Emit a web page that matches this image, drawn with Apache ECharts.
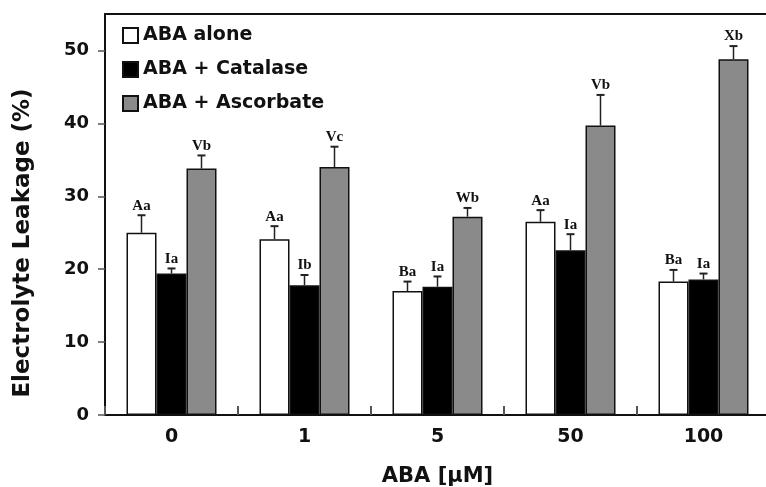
<!DOCTYPE html>
<html>
<head>
<meta charset="utf-8">
<script src="https://cdn.jsdelivr.net/npm/echarts@6/dist/echarts.min.js"></script>
<style>
  html, body { margin: 0; padding: 0; background: #fff; }
  #chart { width: 766px; height: 487px; }
</style>
</head>
<body>
<div id="chart"></div>
<script>
// ABA concentration groups
var categories = ['0', '1', '5', '50', '100'];

// ABA alone
var aloneVals = [25.0, 24.1, 17.0, 26.5, 18.3];
var aloneErr = [2.4, 1.8, 1.3, 1.6, 1.6];
var aloneTags = ['Aa', 'Aa', 'Ba', 'Aa', 'Ba'];

// ABA + Catalase
var catalaseVals = [19.4, 17.8, 17.6, 22.6, 18.6];
var catalaseErr = [0.7, 1.4, 1.4, 2.2, 0.8];
var catalaseTags = ['Ia', 'Ib', 'Ia', 'Ia', 'Ia'];

// ABA + Ascorbate
var ascorbateVals = [33.8, 34.0, 27.2, 39.7, 48.8];
var ascorbateErr = [1.8, 2.8, 1.2, 4.2, 1.8];
var ascorbateTags = ['Vb', 'Vc', 'Wb', 'Vb', 'Xb'];

var yTicks = [0, 10, 20, 30, 40, 50];

var sans = '"DejaVu Sans", "Liberation Sans", Arial, sans-serif';

var myChart = echarts.init(document.getElementById('chart'));

// error bar (upper half only) + letter tag above it
function errSeries(vals, errs, tags, offset) {
  return {
    type: 'custom',
    silent: true,
    z: 5,
    data: vals.map(function (v, i) { return [i, v, v + errs[i]]; }),
    encode: { x: 0, y: [1, 2] },
    renderItem: function (params, api) {
      var base = api.coord([api.value(0), api.value(1)]);
      var top = api.coord([api.value(0), api.value(2)]);
      var x = base[0] + offset;
      return {
        type: 'group',
        children: [
          { type: 'line', shape: { x1: x, y1: base[1], x2: x, y2: top[1] },
            style: { stroke: '#222', lineWidth: 1.5 } },
          { type: 'line', shape: { x1: x - 4, y1: top[1], x2: x + 4, y2: top[1] },
            style: { stroke: '#222', lineWidth: 2 } },
          { type: 'text', x: x, y: top[1] - 2,
            style: { text: tags[params.dataIndex], fill: '#111',
              font: 'bold 15px "Liberation Serif", "DejaVu Serif", serif',
              textAlign: 'center', textVerticalAlign: 'bottom' } }
        ]
      };
    }
  };
}

var barStyle = function (fill) {
  return { color: fill, borderColor: '#111', borderWidth: 1.5 };
};

var option = {
  animation: false,
  backgroundColor: '#fff',
  grid: { left: 105, top: 14, width: 665, height: 401, outerBoundsMode: 'none', containLabel: false },
  legend: {
    orient: 'vertical',
    left: 122,
    top: 26,
    padding: 0,
    itemWidth: 15,
    itemHeight: 15,
    itemGap: 15,
    icon: 'rect',
    textStyle: { fontFamily: sans, fontWeight: 'bold', fontSize: 19, color: '#111', padding: [0, 0, 0, 0] },
    data: ['ABA alone', 'ABA + Catalase', 'ABA + Ascorbate']
  },
  xAxis: [{
    type: 'category',
    data: categories,
    name: 'ABA [\u00b5M]',
    nameLocation: 'middle',
    nameGap: 51,
    nameTextStyle: { fontFamily: sans, fontWeight: 'bold', fontSize: 21, color: '#111' },
    axisLine: { lineStyle: { color: '#111', width: 2 } },
    axisTick: { show: true, inside: true, length: 9, lineStyle: { color: '#555', width: 2 } },
    axisLabel: { margin: 13, fontFamily: sans, fontWeight: 'bold', fontSize: 19, color: '#111' }
  }, {
    type: 'category',
    position: 'top',
    data: categories,
    axisLine: { lineStyle: { color: '#111', width: 2 } },
    axisTick: { show: false },
    axisLabel: { show: false }
  }],
  yAxis: {
    type: 'value',
    min: 0,
    max: 55,
    interval: 10,
    name: 'Electrolyte Leakage (%)',
    nameLocation: 'middle',
    nameGap: 70,
    nameTextStyle: { fontFamily: sans, fontWeight: 'bold', fontSize: 23, color: '#111', padding: [0, 57, 0, 0] },
    splitLine: { show: false },
    axisLine: { show: true, lineStyle: { color: '#111', width: 2 } },
    axisTick: { show: true, length: 7, lineStyle: { color: '#555', width: 1.5 } },
    axisLabel: {
      margin: 16, showMaxLabel: false,
      fontFamily: sans, fontWeight: 'bold', fontSize: 18, color: '#111',
      formatter: function (v) { return yTicks.indexOf(v) >= 0 ? String(v) : ''; }
    }
  },
  series: [
    { name: 'ABA alone', type: 'bar', barWidth: 30, barGap: '0%', data: aloneVals, itemStyle: barStyle('#ffffff') },
    { name: 'ABA + Catalase', type: 'bar', barWidth: 30, barGap: '0%', data: catalaseVals, itemStyle: barStyle('#000000') },
    { name: 'ABA + Ascorbate', type: 'bar', barWidth: 30, barGap: '0%', data: ascorbateVals, itemStyle: barStyle('#8a8a8a') },
    errSeries(aloneVals, aloneErr, aloneTags, -30),
    errSeries(catalaseVals, catalaseErr, catalaseTags, 0),
    errSeries(ascorbateVals, ascorbateErr, ascorbateTags, 30)
  ]
};

myChart.setOption(option);
</script>
</body>
</html>
